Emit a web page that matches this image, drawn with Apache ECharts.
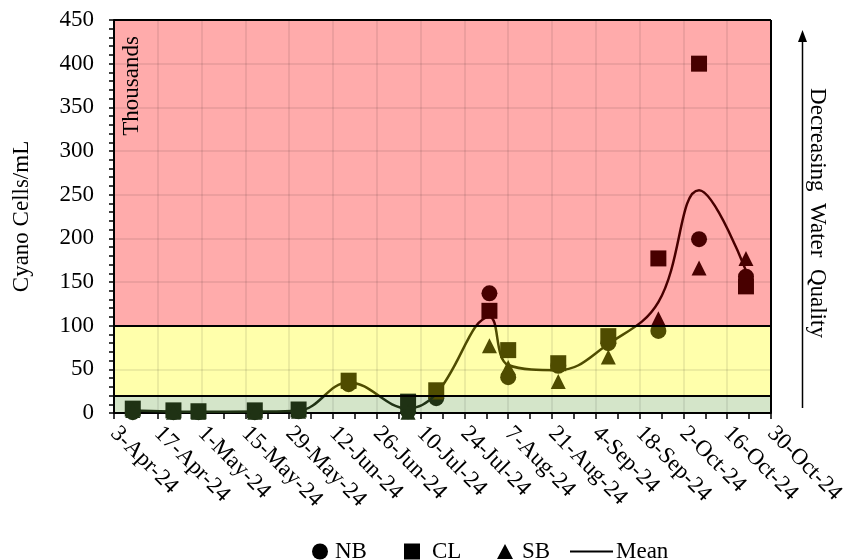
<!DOCTYPE html>
<html>
<head>
<meta charset="utf-8">
<script src="https://cdn.jsdelivr.net/npm/echarts@6/dist/echarts.min.js"></script>
<style>
  html, body { margin: 0; padding: 0; background: #fff; }
  #chart { width: 852px; height: 560px; }
</style>
</head>
<body>
<div id="chart"></div>
<script>
// Cyanobacteria counts (thousands of cells/mL) at three stations, 2024 season
const seasonStart = '2024-04-03';
const sampleDates = ['2024-04-09', '2024-04-22', '2024-04-30', '2024-05-18', '2024-06-01',
  '2024-06-17', '2024-07-06', '2024-07-15', '2024-08-01', '2024-08-07',
  '2024-08-23', '2024-09-08', '2024-09-24', '2024-10-07', '2024-10-22'];
const nbValues = [1, 1, 1, 1, 2, 33, 2, 17, 137, 41, 54, 80, 94, 199, 156];
const clValues = [5, 3, 2, 3, 4, 37, 13, 26, 117, 72, 57, 88, 177, 400, 145];
const sbValues = [3, 1, 1, 1, 2, 36, 1, 24, 77, 52, 36, 64, 108, 166, 177];
const meanValues = [3, 1.7, 1.3, 1.7, 2.7, 35, 5.3, 22, 110, 55, 49, 79, 127, 255, 163];
const xTickLabels = ['3-Apr-24', '17-Apr-24', '1-May-24', '15-May-24', '29-May-24', '12-Jun-24',
  '26-Jun-24', '10-Jul-24', '24-Jul-24', '7-Aug-24', '21-Aug-24', '4-Sep-24', '18-Sep-24',
  '2-Oct-24', '16-Oct-24', '30-Oct-24'];
// Water quality bands: good / caution / poor
const qualityBands = [[0, 20], [20, 100], [100, 450]];

const FONT = "'Liberation Serif', 'Times New Roman', serif";
const FS = 23;
const DAY = 86400000;
const dayOf = d => Math.round((Date.parse(d) - Date.parse(seasonStart)) / DAY);
const pairs = vals => sampleDates.map((d, i) => [dayOf(d), vals[i]]);

const bandColors = ['#d4e5c9', '#ffffab', '#ffabab'];
const gridLine = { show: true, lineStyle: { color: 'rgba(0,0,0,0.10)', width: 1.5 } };
const legendText = { fontSize: FS, color: '#000', fontFamily: FONT };

// one legend block per entry so each keeps its own spacing
function legendEntry(name, icon, left, w, h, textPad) {
  return {
    left: left, top: 535, itemWidth: w, itemHeight: h,
    textStyle: Object.assign({ padding: [0, 0, 0, textPad] }, legendText),
    data: [{ name: name, icon: icon, itemStyle: { color: '#000' } }]
  };
}

const chart = echarts.init(document.getElementById('chart'), null, { renderer: 'canvas' });

chart.setOption({
  animation: false,
  backgroundColor: '#ffffff',
  textStyle: { fontFamily: FONT, color: '#000' },
  grid: { left: 114, right: 81, top: 20, bottom: 147, outerBoundsMode: 'none' },
  xAxis: {
    type: 'value', min: 0, max: 210, interval: 14, z: 1.5,
    axisLine: { show: true, onZero: false, lineStyle: { color: '#000', width: 2 } },
    axisTick: { show: true, length: 6, lineStyle: { color: '#000', width: 1.5 } },
    minorTick: { show: true, splitNumber: 2, length: 6, lineStyle: { color: '#000', width: 1.5 } },
    splitLine: gridLine,
    axisLabel: {
      rotate: -45, margin: 17, fontSize: FS, color: '#000', fontFamily: FONT,
      formatter: v => xTickLabels[Math.round(v / 14)] || ''
    }
  },
  yAxis: {
    type: 'value', min: 0, max: 450, interval: 50, z: 1.5,
    name: 'Cyano Cells/mL', nameLocation: 'middle', nameGap: 81, nameRotate: 90,
    nameTextStyle: { fontSize: FS, color: '#000', fontFamily: FONT },
    axisLine: { show: true, lineStyle: { color: '#000', width: 2 } },
    axisTick: { show: true, length: 5, lineStyle: { color: '#000', width: 1.5 } },
    minorTick: { show: true, splitNumber: 5, length: 5, lineStyle: { color: '#000', width: 1.5 } },
    splitLine: gridLine,
    axisLabel: { margin: 20, fontSize: FS, color: '#000', fontFamily: FONT }
  },
  visualMap: {
    type: 'piecewise', show: false, dimension: 1, seriesIndex: [0, 1, 2, 3],
    pieces: [
      { lt: qualityBands[0][1], color: '#1f3214' },
      { gte: qualityBands[1][0], lt: qualityBands[1][1], color: '#4f4c00' },
      { gte: qualityBands[2][0], color: '#480000' }
    ]
  },
  legend: [
    legendEntry('NB', 'circle', 307, 16, 16, 2),
    legendEntry('CL', 'rect', 399, 16, 16, 7),
    legendEntry('SB', 'triangle', 492, 16, 15, 4),
    legendEntry('Mean', 'rect', 565, 43, 2, -2)
  ],
  graphic: [
    {
      type: 'text', x: 132, y: 86, rotation: Math.PI / 2,
      style: { text: 'Thousands', font: FS + "px 'Liberation Serif', serif", fill: '#000', align: 'center', verticalAlign: 'middle' },
      z: 10
    },
    {
      type: 'line', shape: { x1: 802.5, y1: 408, x2: 802.5, y2: 40 },
      style: { stroke: '#000', lineWidth: 1.5 }
    },
    {
      type: 'polygon', shape: { points: [[802.5, 30], [798, 42], [807, 42]] },
      style: { fill: '#000' }
    },
    {
      type: 'text', x: 817, y: 213, rotation: -Math.PI / 2,
      style: { text: 'Decreasing  Water  Quality', font: FS + "px 'Liberation Serif', serif", fill: '#000', align: 'center', verticalAlign: 'middle' }
    }
  ],
  series: [
    { name: 'NB', type: 'scatter', symbol: 'circle', symbolSize: 16, itemStyle: { opacity: 1 }, data: pairs(nbValues) },
    { name: 'CL', type: 'scatter', symbol: 'rect', symbolSize: 16, itemStyle: { opacity: 1 }, data: pairs(clValues) },
    { name: 'SB', type: 'scatter', symbol: 'triangle', symbolSize: 15, itemStyle: { opacity: 1 }, data: pairs(sbValues) },
    {
      name: 'Mean', type: 'line', smooth: 0.4, showSymbol: false, symbol: 'none',
      lineStyle: { width: 2.5 }, data: pairs(meanValues),
      markArea: {
        silent: true,
        data: qualityBands.map((b, i) => [
          { yAxis: b[0], itemStyle: { color: bandColors[i] } },
          { yAxis: b[1] }
        ])
      },
      markLine: {
        silent: true, symbol: 'none', label: { show: false },
        lineStyle: { color: '#000', width: 2, type: 'solid' },
        data: [{ yAxis: qualityBands[1][0] }, { yAxis: qualityBands[2][0] }, { yAxis: 450 }, { xAxis: 210 }]
      }
    }
  ]
});
</script>
</body>
</html>
